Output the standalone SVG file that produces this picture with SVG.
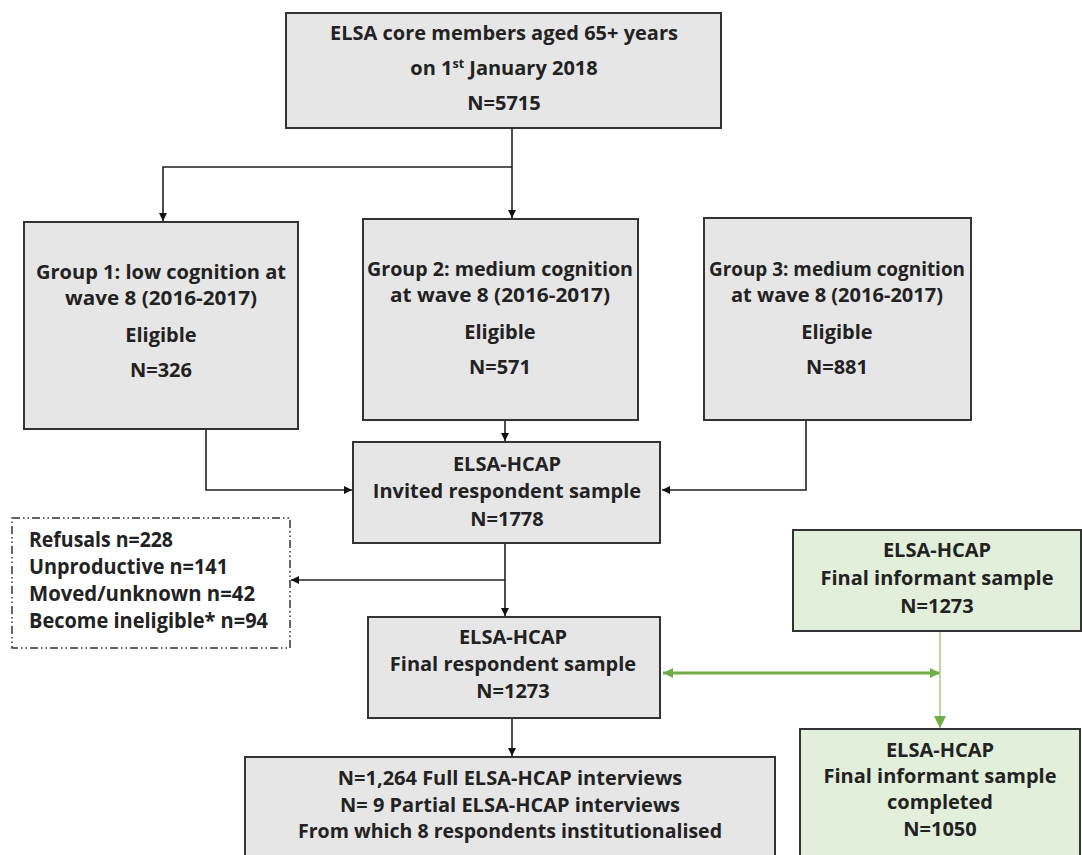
<svg xmlns="http://www.w3.org/2000/svg" width="1082" height="855" viewBox="0 0 1082 855">
<style>
.box{fill:#e7e6e6;stroke:#333;stroke-width:2}
.gbox{fill:#e2efda;stroke:#333;stroke-width:2}
.t{font-family:"Open Sans","Liberation Sans",sans-serif;font-weight:bold;font-size:20px;fill:#222;text-anchor:middle}
.s{font-size:19px}
.tl{font-family:"Open Sans","Liberation Sans",sans-serif;font-weight:bold;font-size:20.5px;fill:#222}
.c{fill:none;stroke:#222;stroke-width:1.6}
.g{fill:none;stroke:#70ad47;stroke-width:2.8}
.g2{fill:none;stroke:#a9d18e;stroke-width:1.6}
</style>
<defs>
<marker id="a" viewBox="0 0 10 10" refX="10" refY="5" markerWidth="9" markerHeight="8" markerUnits="userSpaceOnUse" orient="auto"><path d="M0,0L10,5L0,10z" fill="#111"/></marker>
<marker id="ag" viewBox="0 0 10 10" refX="10" refY="5" markerWidth="12" markerHeight="10" markerUnits="userSpaceOnUse" orient="auto-start-reverse"><path d="M0,0L10,5L0,10z" fill="#70ad47"/></marker>
<marker id="ag2" viewBox="0 0 10 10" refX="10" refY="5" markerWidth="12" markerHeight="13" markerUnits="userSpaceOnUse" orient="auto"><path d="M0,0L10,5L0,10z" fill="#70ad47"/></marker>
</defs>
<g id="connectors">
<path class="c" d="M512,128V218" marker-end="url(#a)"/>
<path class="c" d="M512,167H163V221" marker-end="url(#a)"/>
<path class="c" d="M206,429V490H352" marker-end="url(#a)"/>
<path class="c" d="M505,420V441" marker-end="url(#a)"/>
<path class="c" d="M806,420V490H662" marker-end="url(#a)"/>
<path class="c" d="M505,543V616" marker-end="url(#a)"/>
<path class="c" d="M505,580H291" marker-end="url(#a)"/>
<path class="c" d="M512,718V756" marker-end="url(#a)"/>
<path class="g" d="M663,673H940" marker-start="url(#ag)" marker-end="url(#ag)"/>
<path class="g2" d="M940,631V728" marker-end="url(#ag2)"/>
</g>
<g id="top">
<rect class="box" x="286" y="13" width="435" height="115"/>
<text class="t" x="504" y="40">ELSA core members aged 65+ years</text>
<text class="t" x="504" y="75">on 1<tspan font-size="12.5" dy="-7">st</tspan><tspan dy="7"> January 2018</tspan></text>
<text class="t" x="504" y="110">N=5715</text>
</g>
<g id="group1">
<rect class="box" x="24" y="222" width="274" height="207"/>
<text class="t s" x="161" y="279" textLength="250" lengthAdjust="spacingAndGlyphs">Group 1: low cognition at</text>
<text class="t s" x="161" y="305" textLength="192" lengthAdjust="spacingAndGlyphs">wave 8 (2016-2017)</text>
<text class="t" x="161" y="342">Eligible</text>
<text class="t" x="161" y="377">N=326</text>
</g>
<g id="group2">
<rect class="box" x="363" y="219" width="275" height="201"/>
<text class="t s" x="500" y="276" textLength="266" lengthAdjust="spacingAndGlyphs">Group 2: medium cognition</text>
<text class="t s" x="500" y="302" textLength="220" lengthAdjust="spacingAndGlyphs">at wave 8 (2016-2017)</text>
<text class="t" x="500" y="339">Eligible</text>
<text class="t" x="500" y="374">N=571</text>
</g>
<g id="group3">
<rect class="box" x="704" y="218" width="267" height="202"/>
<text class="t s" x="837" y="276" textLength="256" lengthAdjust="spacingAndGlyphs">Group 3: medium cognition</text>
<text class="t s" x="837" y="302" textLength="212" lengthAdjust="spacingAndGlyphs">at wave 8 (2016-2017)</text>
<text class="t" x="837" y="339">Eligible</text>
<text class="t" x="837" y="374">N=881</text>
</g>
<g id="invited">
<rect class="box" x="353" y="442" width="307" height="101"/>
<text class="t" x="507" y="471">ELSA-HCAP</text>
<text class="t" x="507" y="498">Invited respondent sample</text>
<text class="t" x="507" y="526">N=1778</text>
</g>
<g id="refusals">
<rect x="12" y="518" width="278" height="130" fill="#fff" stroke="#333" stroke-width="1.5" stroke-dasharray="8,3,1.5,3,1.5,3"/>
<text class="tl" x="29" y="547" textLength="144" lengthAdjust="spacingAndGlyphs">Refusals n=228</text>
<text class="tl" x="29" y="574" textLength="199" lengthAdjust="spacingAndGlyphs">Unproductive n=141</text>
<text class="tl" x="29" y="601" textLength="226" lengthAdjust="spacingAndGlyphs">Moved/unknown n=42</text>
<text class="tl" x="29" y="628" textLength="239" lengthAdjust="spacingAndGlyphs">Become ineligible* n=94</text>
</g>
<g id="informant">
<rect class="gbox" x="793" y="530" width="288" height="101"/>
<text class="t" x="937" y="557">ELSA-HCAP</text>
<text class="t" x="937" y="585">Final informant sample</text>
<text class="t" x="937" y="613">N=1273</text>
</g>
<g id="respondent">
<rect class="box" x="368" y="617" width="292" height="101"/>
<text class="t" x="513" y="644">ELSA-HCAP</text>
<text class="t" x="513" y="671">Final respondent sample</text>
<text class="t" x="513" y="698">N=1273</text>
</g>
<g id="interviews">
<rect class="box" x="245" y="757" width="530" height="110"/>
<text class="t" x="510" y="785">N=1,264 Full ELSA-HCAP interviews</text>
<text class="t" x="510" y="812">N= 9 Partial ELSA-HCAP interviews</text>
<text class="t" x="510" y="838" textLength="424" lengthAdjust="spacingAndGlyphs">From which 8 respondents institutionalised</text>
</g>
<g id="completed">
<rect class="gbox" x="800" y="729" width="280" height="140"/>
<text class="t" x="940" y="757">ELSA-HCAP</text>
<text class="t" x="940" y="783">Final informant sample</text>
<text class="t" x="940" y="809">completed</text>
<text class="t" x="940" y="836">N=1050</text>
</g>
</svg>
